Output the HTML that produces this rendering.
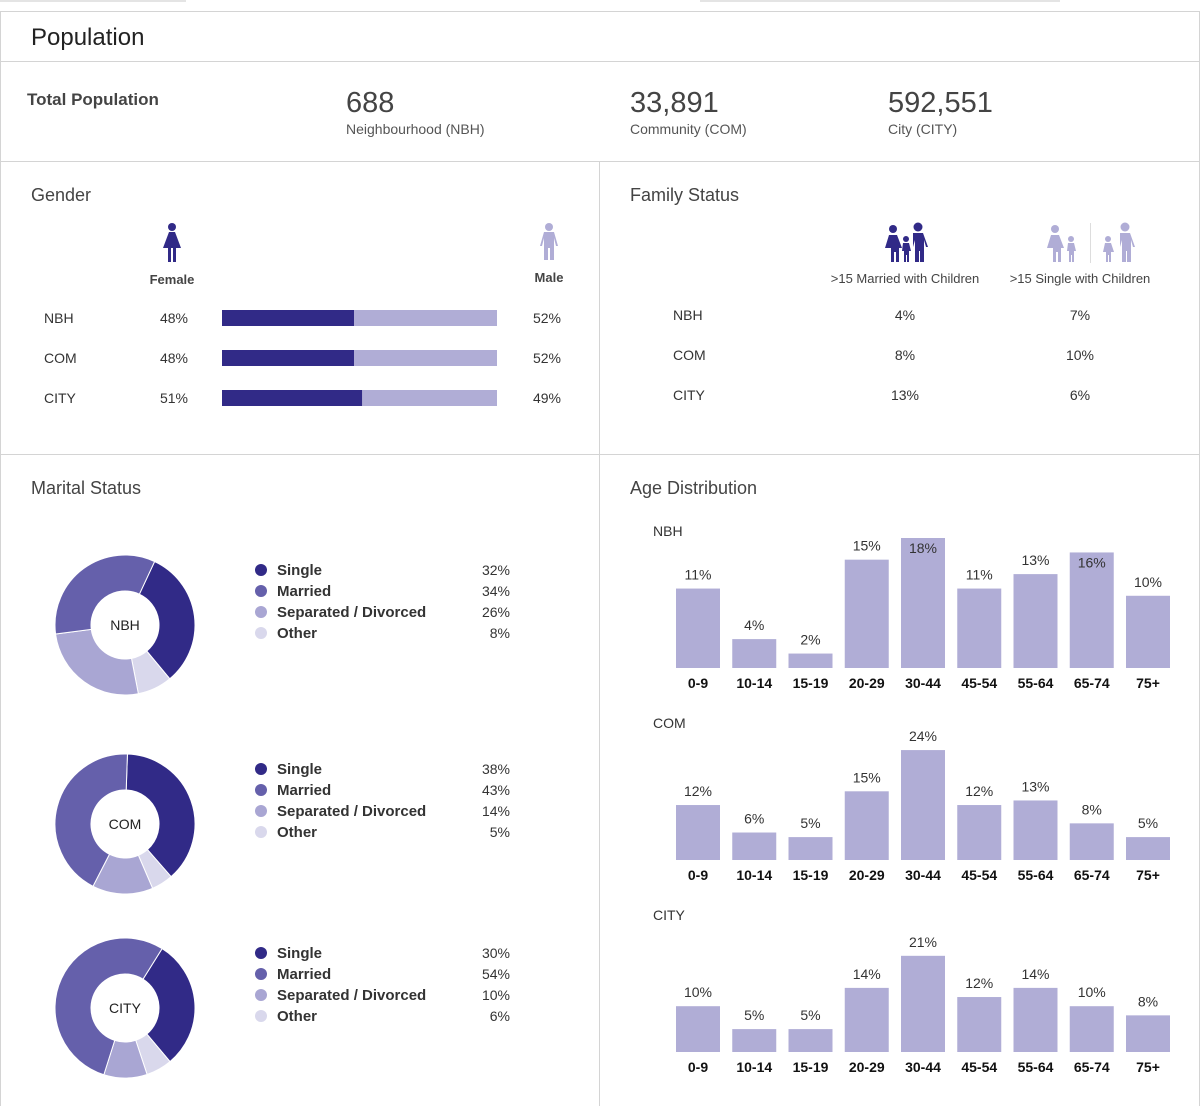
<!DOCTYPE html>
<html><head><meta charset="utf-8"><style>
html,body{margin:0;padding:0;background:#fff;}
svg{display:block;font-family:"Liberation Sans",sans-serif;}
</style></head><body>
<svg id="main" width="1200" height="1106" viewBox="0 0 1200 1106">
<rect x="0" y="0" width="186" height="2" fill="#e4e4e4"/>
<rect x="700" y="0" width="360" height="2" fill="#e4e4e4"/>
<rect x="0.5" y="11.5" width="1199" height="1100" fill="none" stroke="#d4d4d4"/>
<line x1="0" y1="61.5" x2="1200" y2="61.5" stroke="#d4d4d4"/>
<line x1="0" y1="161.5" x2="1200" y2="161.5" stroke="#d4d4d4"/>
<line x1="0" y1="454.5" x2="1200" y2="454.5" stroke="#d4d4d4"/>
<line x1="599.5" y1="161" x2="599.5" y2="1106" stroke="#d4d4d4"/>
<text x="31" y="45" font-size="24" fill="#222">Population</text>
<text x="27" y="105" font-size="17" font-weight="bold" fill="#444">Total Population</text>
<g><text x="346" y="112" font-size="29" fill="#444">688</text><text x="346" y="134" font-size="14" fill="#555">Neighbourhood (NBH)</text></g>
<g><text x="630" y="112" font-size="29" fill="#444">33,891</text><text x="630" y="134" font-size="14" fill="#555">Community (COM)</text></g>
<g><text x="888" y="112" font-size="29" fill="#444">592,551</text><text x="888" y="134" font-size="14" fill="#555">City (CITY)</text></g>

<text x="31" y="201" font-size="18" fill="#444">Gender</text>
<g fill="#312a87">
<circle cx="172" cy="227" r="4"/><path d="M169,232 h6 l6,16 h-5 v14 h-3 v-14 h-2 v14 h-3 v-14 h-5 z"/></g>
<text x="172" y="284" font-size="13" fill="#444" text-anchor="middle" font-weight="bold">Female</text>
<g fill="#b0add6">
<circle cx="549" cy="227" r="4"/><path d="M544,232 h10 l4,14 h-2 l-2,-8 v22 h-4 v-12 h-2 v12 h-4 v-22 l-2,8 h-2 z"/></g>
<text x="549" y="282" font-size="13" fill="#444" text-anchor="middle" font-weight="bold">Male</text>
<g id="gender"></g>

<text x="630" y="201" font-size="18" fill="#444">Family Status</text>
<g fill="#312a87">
<circle cx="893" cy="229" r="4"/><path d="M889,235 h8 l5,13 h-3 v14 h-3 v-10 h-2 v10 h-3 v-14 h-6 z"/>
<circle cx="906" cy="239" r="3"/><path d="M903,243 h6 l2,8 h-2 v11 h-2 v-7 h-1 v7 h-2 v-11 h-2 z"/>
<circle cx="918" cy="227" r="4.5"/><path d="M913,233 h10 l5,14 h-2 l-2,-7 v22 h-4 v-11 h-1 v11 h-4 v-22 l-2,7 z"/></g>
<text x="905" y="283" font-size="13" fill="#444" text-anchor="middle">&gt;15 Married with Children</text>
<g fill="#b0add6">
<circle cx="1055" cy="229" r="4"/><path d="M1051,235 h8 l5,13 h-3 v14 h-3 v-10 h-2 v10 h-3 v-14 h-6 z"/>
<circle cx="1071" cy="239" r="3"/><path d="M1068,243 h6 l2,8 h-2 v11 h-2 v-7 h-1 v7 h-2 v-11 h-2 z"/>
<rect x="1090" y="223" width="1" height="40" fill="#ddd"/>
<circle cx="1108" cy="239" r="3"/><path d="M1105,243 h6 l3,9 h-3 v10 h-2 v-7 h-1 v7 h-2 v-10 h-3 z"/>
<circle cx="1125" cy="227" r="4.5"/><path d="M1120,233 h10 l5,14 h-2 l-2,-7 v22 h-4 v-11 h-1 v11 h-4 v-22 l-2,7 z"/></g>
<text x="1080" y="283" font-size="13" fill="#444" text-anchor="middle">&gt;15 Single with Children</text>
<g id="family"></g>

<text x="31" y="494" font-size="18" fill="#444">Marital Status</text>
<g id="marital"></g>
<text x="630" y="494" font-size="18" fill="#444">Age Distribution</text>
<g id="age"></g>
</svg>
<script>
const regions = ['NBH','COM','CITY'];
const femalePct = [48,48,51];
const malePct = [52,52,49];
const marriedKids = [4,8,13];
const singleKids = [7,10,6];
const maritalCats = ['Single','Married','Separated / Divorced','Other'];
const maritalNBH = [32,34,26,8];
const maritalCOM = [38,43,14,5];
const maritalCITY = [30,54,10,6];
const ageCats = ['0-9','10-14','15-19','20-29','30-44','45-54','55-64','65-74','75+'];
const ageNBH = [11,4,2,15,18,11,13,16,10];
const ageCOM = [12,6,5,15,24,12,13,8,5];
const ageCITY = [10,5,5,14,21,12,14,10,8];

const NS='http://www.w3.org/2000/svg';
function mk(tag,attrs,parent,txt){const e=document.createElementNS(NS,tag);for(const k in attrs)e.setAttribute(k,attrs[k]);if(txt!==undefined)e.textContent=txt;parent.appendChild(e);return e;}

// gender
const g=document.getElementById('gender');
const bx0=222,bw=275;
regions.forEach((r,i)=>{
  const y=318+i*40;
  const row=mk('g',{},g);
  
  
  mk('text',{x:44,y:y+5,'font-size':14,fill:'#333'},row,r);
  mk('text',{x:188,y:y+5,'font-size':14,fill:'#333','text-anchor':'end'},row,femalePct[i]+'%');
  const tot=femalePct[i]+malePct[i];
  const fw=bw*femalePct[i]/tot;
  const fb=mk('rect',{x:bx0,y:y-8,width:fw,height:16,fill:'#312a87'},row);
  
  
  const mb=mk('rect',{x:bx0+fw,y:y-8,width:bw-fw,height:16,fill:'#b0add6'},row);
  
  
  mk('text',{x:561,y:y+5,'font-size':14,fill:'#333','text-anchor':'end'},row,malePct[i]+'%');
});

// family
const f=document.getElementById('family');
regions.forEach((r,i)=>{
  const y=320+i*40;
  const row=mk('g',{},f);
  
  
  mk('text',{x:673,y:y,'font-size':14,fill:'#333'},row,r);
  mk('text',{x:905,y:y,'font-size':14,fill:'#333','text-anchor':'middle'},row,marriedKids[i]+'%');
  mk('text',{x:1080,y:y,'font-size':14,fill:'#333','text-anchor':'middle'},row,singleKids[i]+'%');
});

// marital donuts
const colors=['#312a87','#6560ab','#a9a6d3','#d9d8ec'];
const drawOrder=[0,3,2,1];
const maritalData=[maritalNBH,maritalCOM,maritalCITY];
const centersY=[625,824,1008];
const startDeg=[25,2,32];
const m=document.getElementById('marital');
function pt(cx,cy,r,a){return [cx+r*Math.sin(a),cy-r*Math.cos(a)];}
maritalData.forEach((vals,i)=>{
  const cx=125,cy=centersY[i],R=70,r0=34;
  const grp=mk('g',{},m);
  
  
  const tot=vals.reduce((a,b)=>a+b,0);
  let a=startDeg[i]*Math.PI/180;
  drawOrder.forEach(k=>{
    const da=vals[k]/tot*2*Math.PI;
    const a1=a+da, large=da>Math.PI?1:0;
    const p0=pt(cx,cy,R,a),p1=pt(cx,cy,R,a1),q1=pt(cx,cy,r0,a1),q0=pt(cx,cy,r0,a);
    const s=mk('path',{d:`M${p0} A${R},${R} 0 ${large} 1 ${p1} L${q1} A${r0},${r0} 0 ${large} 0 ${q0} Z`,fill:colors[k],stroke:'#fff','stroke-width':1},grp);
    
    
    a=a1;
  });
  mk('text',{x:cx,y:cy+5,'font-size':14,fill:'#222','text-anchor':'middle'},grp,regions[i]);
  const ly=[570,769,953][i];
  maritalCats.forEach((c,k)=>{
    const le=mk('g',{},grp);
    
    
    const yy=ly+k*21;
    mk('circle',{cx:261,cy:yy,r:6,fill:colors[k]},le);
    mk('text',{x:277,y:yy+5,'font-size':15,fill:'#333','font-weight':'bold'},le,c);
    mk('text',{x:510,y:yy+5,'font-size':14,fill:'#333','text-anchor':'end'},le,vals[k]+'%');
  });
});

// age distribution
const ageData=[ageNBH,ageCOM,ageCITY];
const baseY=[668,860,1052];
const domMax=[18,25,25];
const plotH=[130,114.5,114.5];
const labelY=[536,728,920];
const ag=document.getElementById('age');
const x0=676,step=56.25,barW=44;
ageData.forEach((vals,i)=>{
  const grp=mk('g',{},ag);
  
  
  mk('text',{x:653,y:labelY[i],'font-size':14,fill:'#333'},grp,regions[i]);
  const yS=v=>baseY[i]-v/domMax[i]*plotH[i];
  const topLimit=baseY[i]-123;
  vals.forEach((v,k)=>{
    const x=x0+k*step, top=yS(v);
    const b=mk('rect',{x:x,y:top,width:barW,height:baseY[i]-top,fill:'#b0add6'},grp);
    
    
    let ty=top-9; if(ty<topLimit) ty=top+15;
    mk('text',{x:x+barW/2,y:ty,'font-size':14,fill:'#333','text-anchor':'middle'},grp,v+'%');
    mk('text',{x:x+barW/2,y:baseY[i]+20,'font-size':14,fill:'#111','font-weight':'bold','text-anchor':'middle'},grp,ageCats[k]);
  });
});
</script>
</body></html>
